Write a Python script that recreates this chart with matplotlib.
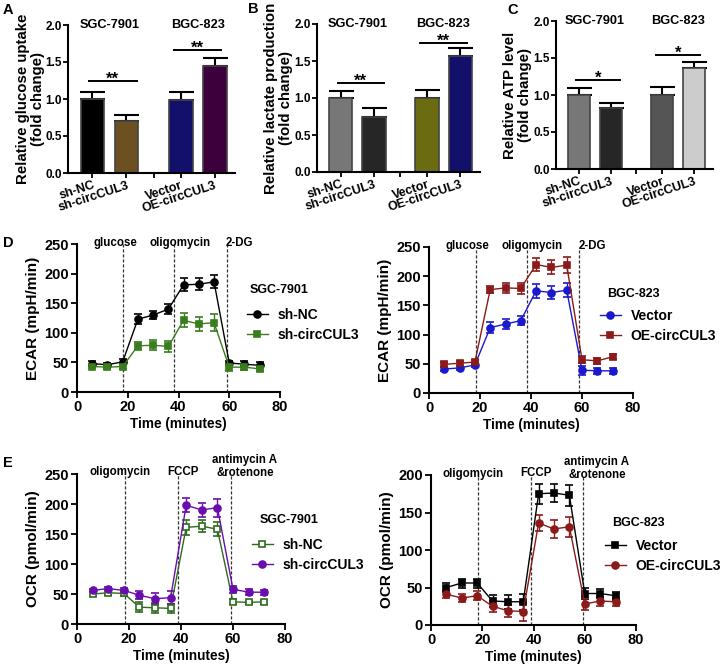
import matplotlib
matplotlib.use('Agg')
import matplotlib.pyplot as plt
from matplotlib.lines import Line2D
import numpy as np

plt.rcParams['font.family'] = ['Liberation Sans', 'DejaVu Sans']
plt.rcParams['font.weight'] = 'bold'
plt.rcParams['axes.labelweight'] = 'bold'

# ---------------- data ----------------
bar_labels = ['sh-NC', 'sh-circCUL3', 'Vector', 'OE-circCUL3']
bar_pos = [0, 1, 2.6, 3.6]

glucose_vals = [1.00, 0.70, 0.99, 1.45]
glucose_err = [0.10, 0.08, 0.11, 0.11]
glucose_colors = ['#000000', '#6b5022', '#12106b', '#3d003d']

lactate_vals = [1.00, 0.75, 1.00, 1.57]
lactate_err = [0.10, 0.12, 0.11, 0.11]
lactate_colors = ['#777777', '#262626', '#6b6b12', '#12106b']

atp_vals = [1.00, 0.82, 1.00, 1.36]
atp_err = [0.10, 0.07, 0.11, 0.09]
atp_colors = ['#777777', '#262626', '#555555', '#cccccc']

time = [6, 12, 18, 24, 30, 36, 42, 48, 54, 60, 66, 72]

ecar_sgc_shnc = [48, 46, 51, 123, 130, 140, 181, 182, 186, 49, 47, 45]
ecar_sgc_shnc_err = [4, 3, 4, 8, 7, 9, 11, 10, 11, 4, 5, 5]
ecar_sgc_shcirc = [43, 42, 43, 78, 79, 77, 121, 115, 117, 42, 42, 39]
ecar_sgc_shcirc_err = [3, 3, 4, 7, 8, 9, 12, 12, 14, 6, 4, 4]

ecar_bgc_vector = [41, 43, 48, 112, 118, 124, 175, 172, 176, 39, 38, 38]
ecar_bgc_vector_err = [4, 4, 4, 9, 8, 8, 12, 11, 12, 8, 5, 5]
ecar_bgc_oe = [49, 51, 53, 177, 180, 179, 220, 215, 219, 57, 55, 62]
ecar_bgc_oe_err = [4, 4, 4, 6, 8, 10, 11, 12, 14, 6, 5, 4]

ocr_sgc_shnc = [50, 52, 51, 28, 27, 26, 161, 163, 158, 37, 36, 37]
ocr_sgc_shnc_err = [4, 4, 4, 8, 8, 8, 12, 10, 12, 4, 3, 3]
ocr_sgc_shcirc = [56, 59, 56, 48, 42, 44, 198, 190, 194, 58, 53, 53]
ocr_sgc_shcirc_err = [3, 3, 4, 7, 9, 11, 12, 12, 15, 6, 5, 4]

ocr_bgc_vector = [50, 56, 56, 32, 31, 31, 175, 176, 173, 42, 42, 39]
ocr_bgc_vector_err = [6, 6, 6, 8, 9, 11, 13, 12, 14, 7, 6, 5]
ocr_bgc_oe = [41, 36, 39, 25, 19, 18, 136, 128, 131, 28, 32, 31]
ocr_bgc_oe_err = [5, 5, 6, 7, 8, 12, 11, 12, 13, 8, 6, 5]

W, H = 723, 670
fig = plt.figure(figsize=(7.23, 6.7), dpi=100)


def ax_px(l, t, r, b):
    return fig.add_axes([l / W, 1 - b / H, (r - l) / W, (b - t) / H])


def style(ax, tsize, length=4, pad=2):
    for s in ['top', 'right']:
        ax.spines[s].set_visible(False)
    for s in ['left', 'bottom']:
        ax.spines[s].set_linewidth(1.5)
    ax.tick_params(width=1.3, length=length, labelsize=tsize, pad=pad)
    for lab in ax.get_xticklabels() + ax.get_yticklabels():
        lab.set_fontweight('bold')


def bar_panel(rect, vals, errs, colors, ylabel, label_x, sig, star, letter, letter_xy):
    ax = ax_px(*rect)
    ax.bar(bar_pos, vals, width=0.7, color=colors, edgecolor='#444444', linewidth=1.2, zorder=2)
    ax.errorbar(bar_pos, vals, yerr=[np.zeros(len(vals)), errs], fmt='none',
                ecolor='black', elinewidth=1.5, capsize=9, capthick=1.5, zorder=1)
    ax.set_xlim(-0.72, 4.2)
    ax.set_ylim(0, 2.0)
    ax.set_yticks([0, 0.5, 1.0, 1.5, 2.0])
    ax.set_yticklabels(['0.0', '0.5', '1.0', '1.5', '2.0'])
    ax.set_xticks([0, 1, 1.8, 2.6, 3.6])
    ax.set_xticklabels(['sh-NC', 'sh-circCUL3', '', 'Vector', 'OE-circCUL3'],
                       rotation=18, ha='right', rotation_mode='anchor')
    style(ax, 8.5, length=3.5, pad=1)
    for lab in ax.get_xticklabels():
        lab.set_fontsize(9)
    ax.set_ylabel(ylabel, fontsize=10.8, fontweight='bold', linespacing=1.1)
    ax.yaxis.set_label_coords(label_x, 0.5)
    ax.text(0.5, 2.0, 'SGC-7901', ha='center', va='center', fontsize=9.2, fontweight='bold')
    ax.text(3.1, 2.0, 'BGC-823', ha='center', va='center', fontsize=9.2, fontweight='bold')
    (y1, y2) = sig
    ax.plot([-0.1, 1.3], [y1, y1], color='black', lw=1.4, clip_on=False)
    ax.plot([2.4, 3.8], [y2, y2], color='black', lw=1.4, clip_on=False)
    ax.text(0.6, y1 - 0.035, star, ha='center', va='baseline', fontsize=12, fontweight='bold')
    ax.text(3.1, y2 - 0.035, star, ha='center', va='baseline', fontsize=12, fontweight='bold')
    fig.text(letter_xy[0] / W, 1 - letter_xy[1] / H, letter, fontsize=10.5, fontweight='bold',
             ha='left', va='top')
    return ax


bar_panel((68, 25, 235, 173), glucose_vals, glucose_err, glucose_colors,
          'Relative glucose uptake\n(fold change)', -0.14, (1.24, 1.66), '**', 'A', (3, 3))
bar_panel((317, 24, 480, 172), lactate_vals, lactate_err, lactate_colors,
          'Relative lactate production\n(fold change)', -0.145, (1.20, 1.74), '**', 'B', (248, 2))
bar_panel((556, 21, 713, 169), atp_vals, atp_err, atp_colors,
          'Relative ATP level\n(fold change)', -0.15, (1.20, 1.54), '*', 'C', (507, 3))


def line_panel(rect, ymax, series, ylabel, vlines, vlabels, legend_title, title_xy,
               handle_xy, letter=None, letter_xy=None):
    ax = ax_px(*rect)
    handles = []
    for (vals, errs, color, marker, mfc, lab) in series:
        ax.errorbar(time, vals, yerr=errs, color=color, marker=marker, markersize=5,
                    mfc=mfc, mec=color, mew=1.2, lw=1.0, elinewidth=1.0,
                    capsize=3, capthick=1.0)
        handles.append(Line2D([], [], color=color, marker=marker, markersize=5,
                              mfc=mfc, mec=color, mew=1.2, lw=1.0, label=lab))
    for xv in vlines:
        ax.axvline(xv, color='#333333', lw=0.9, ls=(0, (2.5, 1.5)), zorder=0)
    for (xt, yt, txt) in vlabels:
        ax.text(xt, yt, txt, ha='center', va='center', fontsize=8.3, fontweight='bold',
                linespacing=1.1)
    ax.set_xlim(0, 80)
    ax.set_ylim(0, ymax)
    ax.set_xticks([0, 20, 40, 60, 80])
    ax.set_yticks(np.arange(0, ymax + 1, 50))
    style(ax, 10.5)
    ax.set_xlabel('Time (minutes)', fontsize=9.8, fontweight='bold', labelpad=2)
    ax.set_ylabel(ylabel, fontsize=11, fontweight='bold', labelpad=3)
    fig.text(title_xy[0] / W, 1 - title_xy[1] / H, legend_title, fontsize=9,
             fontweight='bold', ha='left', va='center')
    leg = fig.legend(handles=handles, loc='upper left',
                     bbox_to_anchor=(handle_xy[0] / W, 1 - handle_xy[1] / H),
                     bbox_transform=fig.transFigure, frameon=False, fontsize=10,
                     handlelength=1.5, handletextpad=0.7,
                     labelspacing=0.45, borderaxespad=0, borderpad=0)
    for t in leg.get_texts():
        t.set_fontweight('bold')
    if letter:
        fig.text(letter_xy[0] / W, 1 - letter_xy[1] / H, letter, fontsize=10.5,
                 fontweight='bold', ha='left', va='top')
    return ax


line_panel((77, 244, 280, 392), 250,
           [(ecar_sgc_shnc, ecar_sgc_shnc_err, '#000000', 'o', '#000000', 'sh-NC'),
            (ecar_sgc_shcirc, ecar_sgc_shcirc_err, '#3a7d1e', 's', '#3a7d1e', 'sh-circCUL3')],
           'ECAR (mpH/min)', [18.2, 38.4, 59.0],
           [(15, 252, 'glucose'), (40.5, 252, 'oligomycin'), (64, 252, '2-DG')],
           'SGC-7901', (250, 290), (247, 308), 'D', (3, 236))

line_panel((429, 247, 633, 393), 250,
           [(ecar_bgc_vector, ecar_bgc_vector_err, '#1a1acc', 'o', '#1a1acc', 'Vector'),
            (ecar_bgc_oe, ecar_bgc_oe_err, '#8b1a1a', 's', '#8b1a1a', 'OE-circCUL3')],
           'ECAR (mpH/min)', [18.3, 38.3, 58.7],
           [(15.2, 252, 'glucose'), (40.5, 252, 'oligomycin'), (64, 252, '2-DG')],
           'BGC-823', (607, 294), (600, 309))

line_panel((77, 474, 285, 624), 250,
           [(ocr_sgc_shnc, ocr_sgc_shnc_err, '#2f6b1e', 's', 'white', 'sh-NC'),
            (ocr_sgc_shcirc, ocr_sgc_shcirc_err, '#6a0dad', 'o', '#6a0dad', 'sh-circCUL3')],
           'OCR (pmol/min)', [18.5, 38.9, 59.1],
           [(16.5, 254, 'oligomycin'), (40.8, 254, 'FCCP'), (64.6, 262, 'antimycin A\n&rotenone')],
           'SGC-7901', (260, 520), (252, 538), 'E', (3, 456))

line_panel((431, 475, 636, 625), 200,
           [(ocr_bgc_vector, ocr_bgc_vector_err, '#000000', 's', '#000000', 'Vector'),
            (ocr_bgc_oe, ocr_bgc_oe_err, '#8b1a1a', 'o', '#8b1a1a', 'OE-circCUL3')],
           'OCR (pmol/min)', [18.5, 39.1, 59.5],
           [(16.5, 202, 'oligomycin'), (40.8, 202, 'FCCP'), (64.7, 209, 'antimycin A\n&rotenone')],
           'BGC-823', (612, 523), (605, 539))

fig.savefig('out.png', dpi=100)
